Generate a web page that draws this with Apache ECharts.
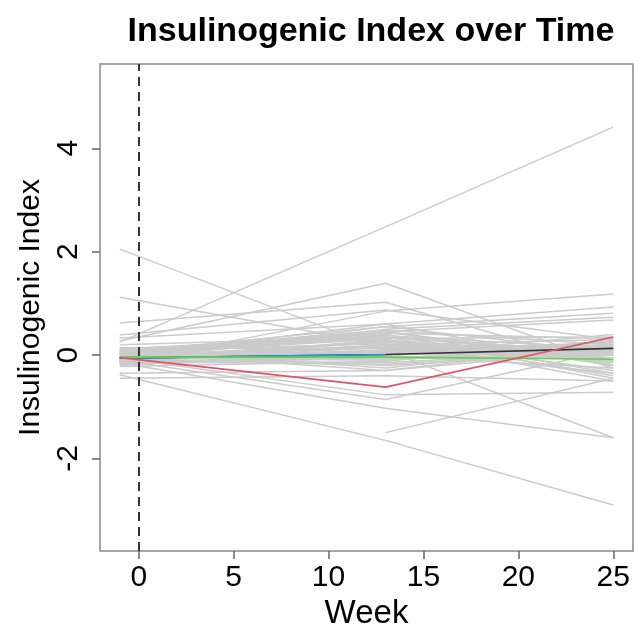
<!DOCTYPE html>
<html>
<head>
<meta charset="utf-8">
<script src="https://cdn.jsdelivr.net/npm/echarts@6/dist/echarts.min.js"></script>
<style>html,body{margin:0;padding:0;background:#fff;}#c{width:634px;height:635px;}</style>
</head>
<body>
<div id="c"></div>
<script>
const weeks = [-1, 13, 25];
const xTicks = [0, 5, 10, 15, 20, 25];
const yTicks = [-2, 0, 2, 4];

// one entry per subject (null = not measured)
const baseline = [2.05, 0.25, 1.12, 0.62, 0.27, 0.39, 0.33, -0.15, 0.05, -0.10, -0.38, null, -0.15, -0.05, -0.10, -0.45, -0.35, 0.00, -0.05, 0.20,
  -0.20, -0.18, -0.15, -0.12, -0.10, -0.08, -0.06, -0.05, -0.03, -0.02, 0.00, 0.02, 0.04, 0.06, 0.08, 0.10, 0.12, 0.14, -0.22, -0.14,
  -0.09, -0.07, -0.01, 0.03, 0.05, 0.09, -0.17, -0.11, -0.04, 0.01, 0.07, -0.13, -0.19, 0.11, -0.06,
  -0.10, -0.05, 0.00, -0.08, -0.12, -0.02, 0.04, -0.15, -0.06, 0.02];
const week13 = [0.09, 2.48, 0.20, 1.02, 1.39, 0.87, 0.60, 0.85, 0.55, 0.50, -1.65, -1.50, -1.03, -0.77, -0.86, -0.40, -0.30, 0.45, 0.40, 0.35,
  0.10, -0.05, 0.30, 0.20, -0.15, 0.25, 0.05, 0.40, -0.10, 0.15, 0.32, -0.20, 0.45, 0.00, 0.22, -0.25, 0.38, 0.12, -0.12, 0.28,
  0.08, -0.02, 0.18, 0.42, -0.30, 0.35, 0.02, -0.08, 0.26, 0.14, 0.48, -0.18, 0.06, 0.30, 0.10,
  0.55, 0.45, 0.05, -0.05, 0.15, 0.60, -0.10, 0.20, 0.00, 0.35];
const week25 = [-1.60, 4.41, -0.10, -0.25, -0.20, 0.30, 0.93, 1.18, 0.81, 0.73, -2.90, -0.45, -1.60, -0.72, 0.10, -0.50, 0.20, 0.68, -0.35, 0.00,
  0.20, 0.00, -0.30, 0.30, 0.10, -0.15, 0.25, -0.45, 0.15, -0.05, 0.35, 0.05, -0.20, 0.40, -0.10, 0.22, 0.12, -0.35, 0.28, 0.02,
  0.18, -0.25, 0.08, 0.32, 0.10, -0.40, 0.16, 0.26, 0.00, -0.12, 0.20, 0.06, 0.14, -0.50, 0.24,
  0.05, -0.10, 0.15, 0.00, 0.10, -0.20, 0.20, -0.05, 0.10, 0.05];

// summary lines
const blackLine = [-0.06, 0.01, 0.13];
const blueLine = [-0.06, 0.01, null];
const greenLine = [-0.04, -0.04, -0.08];
const redLine = [-0.05, -0.62, 0.35];

const FONT = '"Liberation Sans", Arial, Helvetica, sans-serif';

function toPts(vals) {
  return weeks.map((w, k) => [w, vals[k]]).filter(p => p[1] !== null);
}

const series = [];
for (let i = 0; i < baseline.length; i++) {
  series.push({
    type: 'line', silent: true, symbol: 'none', animation: false,
    data: toPts([baseline[i], week13[i], week25[i]]),
    lineStyle: { color: '#cbcbcb', width: 1.5 }
  });
}
series[0].markLine = {
  silent: true, symbol: 'none', animation: false,
  label: { show: false },
  lineStyle: { color: '#333', type: [9, 6], width: 2 },
  data: [{ xAxis: 0 }]
};
[[blackLine, '#333333'], [blueLine, '#2297E6'], [greenLine, '#61D04F'], [redLine, '#DF536B']].forEach(([vals, col]) => {
  series.push({
    type: 'line', silent: true, symbol: 'none', animation: false,
    data: toPts(vals), lineStyle: { color: col, width: 1.6 }, z: 3
  });
});

const chart = echarts.init(document.getElementById('c'));
chart.setOption({
  animation: false,
  backgroundColor: '#fff',
  title: {
    text: 'Insulinogenic Index over Time',
    left: 366, top: 10, textAlign: 'center',
    textStyle: { fontFamily: FONT, fontSize: 34, fontWeight: 'bold', color: '#000' }
  },
  grid: {
    left: 100, right: 1, top: 64, bottom: 84,
    outerBoundsMode: 'none', containLabel: false,
    show: true, borderColor: '#888', borderWidth: 1.5
  },
  xAxis: {
    type: 'value', min: -2.04, max: 26.04,
    splitLine: { show: false },
    axisLine: { show: false, onZero: false },
    axisTick: { show: true, customValues: xTicks, length: 8, lineStyle: { color: '#666', width: 1.5 } },
    axisLabel: { customValues: xTicks, fontSize: 30, color: '#000', margin: 12, fontFamily: FONT },
    name: 'Week', nameLocation: 'middle', nameGap: 38,
    nameTextStyle: { fontSize: 33, color: '#000', fontFamily: FONT }
  },
  yAxis: {
    type: 'value', min: -3.79, max: 5.63,
    splitLine: { show: false },
    axisLine: { show: false, onZero: false },
    axisTick: { show: true, customValues: yTicks, length: 8, lineStyle: { color: '#666', width: 1.5 } },
    axisLabel: { customValues: yTicks, fontSize: 30, color: '#000', margin: 16, rotate: 90, fontFamily: FONT },
    name: 'Insulinogenic Index', nameLocation: 'middle', nameGap: 50, nameRotate: 90,
    nameTextStyle: { fontSize: 30, color: '#000', fontFamily: FONT }
  },
  series: series
});
</script>
</body>
</html>
